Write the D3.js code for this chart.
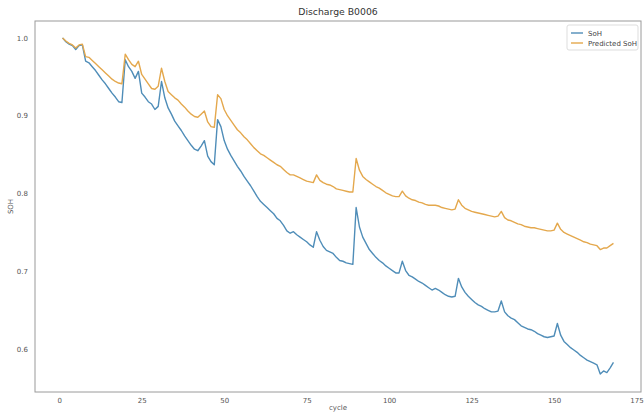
<!DOCTYPE html>
<html>
<head>
<meta charset="utf-8">
<script src="https://cdn.jsdelivr.net/npm/d3@7"></script>
<style>
  body { margin: 0; background: #fff; }
  text { font-family: "DejaVu Sans", sans-serif; }
</style>
</head>
<body>
<div id="container"></div>
<script>
/* DATA */
const cycles = d3.range(1, 169);

const soh = [
  1.000, 0.995, 0.992, 0.990, 0.985, 0.990, 0.991, 0.970, 0.968, 0.963,
  0.958, 0.952, 0.946, 0.941, 0.935, 0.929, 0.924, 0.918, 0.917, 0.972,
  0.963, 0.957, 0.948, 0.957, 0.929, 0.924, 0.918, 0.915, 0.908, 0.912,
  0.944, 0.923, 0.910, 0.902, 0.893, 0.887, 0.881, 0.874, 0.868, 0.862,
  0.857, 0.855, 0.861, 0.868, 0.848, 0.841, 0.837, 0.895, 0.886, 0.868,
  0.857, 0.849, 0.842, 0.835, 0.829, 0.822, 0.816, 0.810, 0.803, 0.796,
  0.790, 0.786, 0.782, 0.778, 0.774, 0.768, 0.765, 0.759, 0.752, 0.749,
  0.751, 0.747, 0.744, 0.741, 0.738, 0.734, 0.731, 0.751, 0.740, 0.732,
  0.727, 0.725, 0.723, 0.718, 0.714, 0.713, 0.711, 0.710, 0.709, 0.782,
  0.757, 0.744, 0.736, 0.728, 0.723, 0.718, 0.714, 0.711, 0.707, 0.704,
  0.701, 0.698, 0.698, 0.713, 0.701, 0.695, 0.693, 0.690, 0.687, 0.685,
  0.682, 0.679, 0.676, 0.678, 0.676, 0.673, 0.670, 0.668, 0.667, 0.668,
  0.691, 0.680, 0.673, 0.668, 0.664, 0.660, 0.657, 0.655, 0.652, 0.650,
  0.648, 0.648, 0.649, 0.662, 0.648, 0.643, 0.640, 0.638, 0.634, 0.630,
  0.628, 0.626, 0.625, 0.623, 0.620, 0.618, 0.616, 0.615, 0.616, 0.617,
  0.633, 0.618, 0.610, 0.606, 0.602, 0.599, 0.596, 0.592, 0.589, 0.586,
  0.584, 0.582, 0.580, 0.568, 0.572, 0.570, 0.576, 0.583
];

const predicted = [
  1.000, 0.996, 0.993, 0.991, 0.987, 0.991, 0.992, 0.976, 0.975, 0.971,
  0.967, 0.963, 0.959, 0.955, 0.951, 0.947, 0.944, 0.942, 0.941, 0.979,
  0.972, 0.966, 0.963, 0.970, 0.953, 0.947, 0.941, 0.935, 0.934, 0.938,
  0.961, 0.944, 0.931, 0.927, 0.923, 0.920, 0.915, 0.911, 0.906, 0.902,
  0.899, 0.898, 0.902, 0.906, 0.892, 0.886, 0.885, 0.927, 0.922, 0.908,
  0.900, 0.894, 0.888, 0.882, 0.878, 0.873, 0.869, 0.864, 0.859, 0.855,
  0.851, 0.849, 0.846, 0.843, 0.840, 0.837, 0.835, 0.831, 0.827, 0.824,
  0.824, 0.822, 0.820, 0.818, 0.816, 0.815, 0.814, 0.824, 0.817, 0.814,
  0.812, 0.811, 0.809, 0.806, 0.805, 0.804, 0.803, 0.802, 0.802, 0.845,
  0.830, 0.822, 0.818, 0.815, 0.812, 0.809, 0.807, 0.804, 0.801, 0.799,
  0.797, 0.796, 0.796, 0.803, 0.797, 0.794, 0.792, 0.791, 0.789, 0.788,
  0.786, 0.785, 0.785, 0.785, 0.784, 0.782, 0.781, 0.780, 0.779, 0.780,
  0.792, 0.785, 0.781, 0.779, 0.777, 0.776, 0.775, 0.774, 0.773, 0.772,
  0.771, 0.770, 0.771, 0.777, 0.769, 0.766, 0.765, 0.763, 0.761, 0.760,
  0.758, 0.757, 0.756, 0.756, 0.755, 0.754, 0.753, 0.752, 0.752, 0.753,
  0.762, 0.754, 0.750, 0.748, 0.746, 0.744, 0.742, 0.740, 0.738, 0.737,
  0.735, 0.734, 0.733, 0.728, 0.730, 0.730, 0.733, 0.736
];

const xTicks = [0, 25, 50, 75, 100, 125, 150, 175];
const yTicks = [0.6, 0.7, 0.8, 0.9, 1.0];
const seriesNames = ["SoH", "Predicted SoH"];
const colors = ["#4f8db8", "#e4a84d"];

/* CONSTANTS */
const width = 644, height = 412,
  margin = { top: 21, bottom: 20, left: 35, right: 3 };

const svg = d3.select("#container")
  .append("svg")
  .attr("width", width)
  .attr("height", height);

/* SCALES */
const xScale = d3.scaleLinear()
  .domain([-7.35, 176.35])
  .range([margin.left, width - margin.right]);

const yScale = d3.scaleLinear()
  .domain([0.545, 1.0217])
  .range([height - margin.bottom, margin.top]);

// axes (no tick marks, just labels)
const xAxis = d3.axisBottom(xScale).tickValues(xTicks).tickSize(0).tickPadding(6);
svg.append("g")
  .attr("transform", `translate(0,${height - margin.bottom})`)
  .call(xAxis)
  .call(g => g.select(".domain").remove())
  .selectAll("text")
  .attr("fill", "#555")
  .style("font-size", "7px");

const yAxis = d3.axisLeft(yScale).tickValues(yTicks).tickSize(0).tickPadding(7)
  .tickFormat(d3.format(".1f"));
svg.append("g")
  .attr("transform", `translate(${margin.left},0)`)
  .call(yAxis)
  .call(g => g.select(".domain").remove())
  .selectAll("text")
  .attr("fill", "#555")
  .style("font-size", "7px");

// frame
svg.append("rect")
  .attr("x", margin.left)
  .attr("y", margin.top)
  .attr("width", width - margin.right - margin.left)
  .attr("height", height - margin.bottom - margin.top)
  .attr("fill", "none")
  .attr("stroke", "#9a9a9a")
  .attr("stroke-width", 1);

// lines
const line = d3.line()
  .x(d => xScale(d[0]))
  .y(d => yScale(d[1]));

[soh, predicted].forEach((vals, i) => {
  svg.append("path")
    .datum(cycles.map((c, j) => [c, vals[j]]))
    .attr("fill", "none")
    .attr("stroke", colors[i])
    .attr("stroke-width", 1.4)
    .attr("stroke-linejoin", "round")
    .attr("d", line);
});

// title + labels
svg.append("text")
  .attr("x", (margin.left + width - margin.right) / 2)
  .attr("y", 15)
  .attr("text-anchor", "middle")
  .attr("fill", "#333")
  .style("font-size", "9.3px")
  .text("Discharge B0006");

svg.append("text")
  .attr("x", (margin.left + width - margin.right) / 2)
  .attr("y", 410)
  .attr("text-anchor", "middle")
  .attr("fill", "#555")
  .style("font-size", "7px")
  .text("cycle");

svg.append("text")
  .attr("transform", `translate(13,${(margin.top + height - margin.bottom) / 2}) rotate(-90)`)
  .attr("text-anchor", "middle")
  .attr("fill", "#555")
  .style("font-size", "7px")
  .text("SOH");

// legend
const legend = svg.append("g").attr("transform", "translate(567,25)");
legend.append("rect")
  .attr("width", 71).attr("height", 25)
  .attr("rx", 2)
  .attr("fill", "#fff")
  .attr("stroke", "#ddd");

seriesNames.forEach((name, i) => {
  const y = 8 + i * 10;
  legend.append("line")
    .attr("x1", 4).attr("x2", 16)
    .attr("y1", y).attr("y2", y)
    .attr("stroke", colors[i])
    .attr("stroke-width", 1.4);
  legend.append("text")
    .attr("x", 21).attr("y", y + 2.5)
    .attr("fill", "#444")
    .style("font-size", "7px")
    .text(name);
});
</script>
</body>
</html>
